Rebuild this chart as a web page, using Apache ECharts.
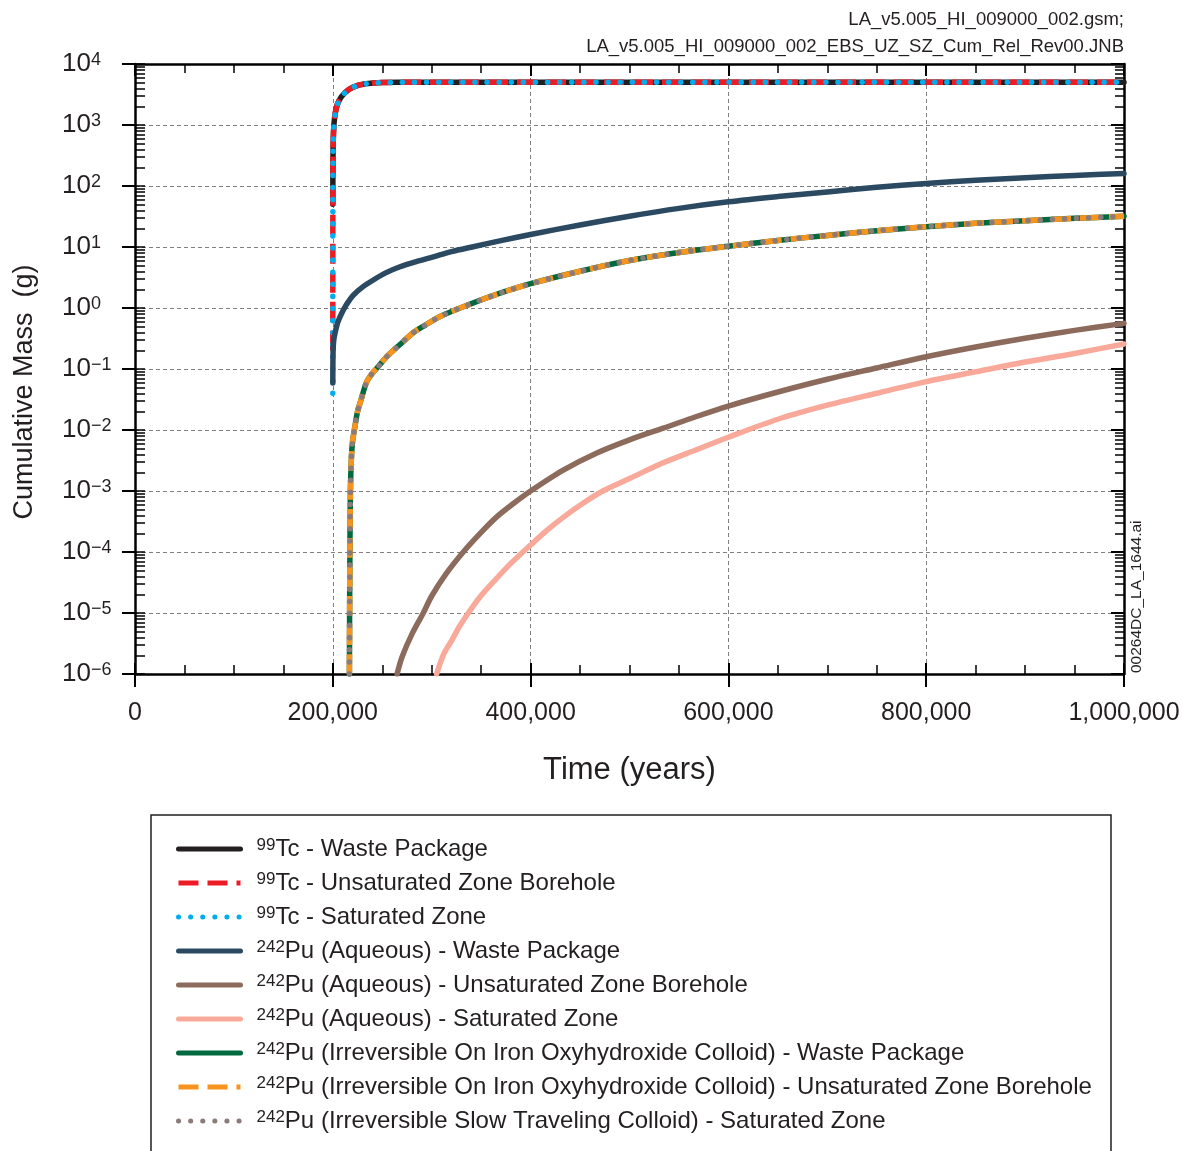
<!DOCTYPE html>
<html>
<head>
<meta charset="utf-8">
<script src="https://cdn.jsdelivr.net/npm/echarts@6/dist/echarts.min.js"></script>
<style>html,body{margin:0;padding:0;background:#fff}#c{width:1182px;height:1151px}</style>
</head>
<body>
<div id="c"></div>
<script>
// ---------------- DATA ----------------
const seriesNames = [
  '99Tc - Waste Package',
  '99Tc - Unsaturated Zone Borehole',
  '99Tc - Saturated Zone',
  '242Pu (Aqueous) - Waste Package',
  '242Pu (Aqueous) - Unsaturated Zone Borehole',
  '242Pu (Aqueous) - Saturated Zone',
  '242Pu (Irreversible On Iron Oxyhydroxide Colloid) - Waste Package',
  '242Pu (Irreversible On Iron Oxyhydroxide Colloid) - Unsaturated Zone Borehole',
  '242Pu (Irreversible Slow Traveling Colloid) - Saturated Zone'
];

const xTickValues = [0, 200000, 400000, 600000, 800000, 1000000];
const yTickValues = [1e-6, 1e-5, 1e-4, 1e-3, 1e-2, 1e-1, 1, 10, 100, 1000, 10000];

// 99Tc (years, grams)
const tcTime = [200000, 200020, 200060, 200150, 200350, 200700, 201200, 202000, 203000, 204500, 206500, 209000, 212000, 216000, 220000, 226000, 233000, 241000, 250000, 265000, 300000, 400000, 500000, 600000, 700000, 800000, 900000, 1000000];
const tcWP = [50, 70, 110, 250, 480, 760, 1050, 1400, 1750, 2150, 2550, 2950, 3350, 3800, 4150, 4500, 4750, 4900, 4980, 5000, 5000, 5000, 5000, 5000, 5000, 5000, 5000, 5000];
const tcUZ = [0.2, 3, 30, 200, 450, 740, 1030, 1400, 1750, 2150, 2550, 2950, 3350, 3800, 4150, 4500, 4750, 4900, 4980, 5000, 5000, 5000, 5000, 5000, 5000, 5000, 5000, 5000];
const tcSZ = [0.04, 1, 20, 170, 430, 730, 1020, 1400, 1750, 2150, 2550, 2950, 3350, 3800, 4150, 4500, 4750, 4900, 4980, 5000, 5000, 5000, 5000, 5000, 5000, 5000, 5000, 5000];

// 242Pu aqueous - waste package
const puAqWPTime = [200000, 200300, 201000, 202200, 205000, 209000, 214000, 220800, 230000, 241000, 254000, 268000, 285000, 301700, 320000, 342000, 370000, 400000, 450000, 500000, 550000, 600000, 650000, 700000, 750000, 800000, 850000, 900000, 950000, 1000000];
const puAqWP = [0.059, 0.2, 0.3, 0.385, 0.58, 0.82, 1.15, 1.63, 2.2, 2.88, 3.8, 4.75, 5.8, 6.9, 8.4, 10.1, 12.7, 16, 23, 32, 43, 55, 67, 80, 95, 110, 124, 137, 149, 160];

// 242Pu aqueous - unsaturated zone borehole
const puAqUZTime = [265000, 270000, 280000, 291500, 300000, 315000, 333000, 350000, 366000, 383000, 400000, 433000, 467000, 500000, 534000, 567000, 600000, 650000, 700000, 750000, 800000, 850000, 900000, 950000, 1000000];
const puAqUZ = [1e-6, 1.9e-6, 4.5e-6, 1e-5, 1.9e-5, 4.5e-5, 1.05e-4, 2.1e-4, 3.8e-4, 6.3e-4, 1e-3, 2.2e-3, 4.2e-3, 6.9e-3, 0.0107, 0.0165, 0.0247, 0.042, 0.068, 0.104, 0.159, 0.23, 0.32, 0.43, 0.56];

// 242Pu aqueous - saturated zone
const puAqSZTime = [305000, 312000, 320000, 328000, 337000, 349000, 365000, 380000, 400000, 417000, 434000, 453000, 473000, 500000, 534000, 567000, 600000, 650000, 700000, 750000, 800000, 850000, 900000, 950000, 1000000];
const puAqSZ = [1e-6, 2.1e-6, 3.5e-6, 6e-6, 1e-5, 1.85e-5, 3.6e-5, 6.5e-5, 1.3e-4, 2.3e-4, 3.8e-4, 6.3e-4, 1e-3, 1.6e-3, 2.9e-3, 4.7e-3, 7.6e-3, 0.015, 0.0255, 0.04, 0.062, 0.09, 0.13, 0.18, 0.257];

// 242Pu colloids (three curves overlap)
const puColTime = [216800, 217000, 217300, 217800, 218800, 220000, 222400, 225000, 228500, 234000, 240000, 246000, 253000, 261000, 270000, 281000, 294000, 308000, 332000, 362000, 400000, 450000, 500000, 550000, 600000, 650000, 700000, 750000, 800000, 850000, 900000, 950000, 1000000];
const puColWP = [1e-6, 1e-5, 1e-4, 1e-3, 3.5e-3, 6.5e-3, 0.0115, 0.02, 0.031, 0.06, 0.085, 0.11, 0.15, 0.2, 0.27, 0.39, 0.53, 0.72, 1.05, 1.6, 2.5, 4.0, 6.0, 8.1, 10.3, 12.8, 15.5, 18.5, 21.5, 24.5, 27, 29.5, 32];
const puColUZ = [1e-6, 1e-5, 1e-4, 1e-3, 3.5e-3, 6.5e-3, 0.0115, 0.02, 0.031, 0.06, 0.085, 0.11, 0.15, 0.2, 0.27, 0.39, 0.53, 0.72, 1.05, 1.6, 2.5, 4.0, 6.0, 8.1, 10.3, 12.8, 15.5, 18.5, 21.5, 24.5, 27, 29.5, 32];
const puColSZ = [1e-6, 1e-5, 1e-4, 1e-3, 3.5e-3, 6.5e-3, 0.0115, 0.02, 0.031, 0.06, 0.085, 0.11, 0.15, 0.2, 0.27, 0.39, 0.53, 0.72, 1.05, 1.6, 2.5, 4.0, 6.0, 8.1, 10.3, 12.8, 15.5, 18.5, 21.5, 24.5, 27, 29.5, 32];

// ---------------- STYLE ----------------
const FONT = '"Liberation Sans", Arial, Helvetica, sans-serif';
const TXT = '#231f20';
const minorMult = [2, 3, 4, 5, 6, 7, 8, 9];
const yMinor = [];
yTickValues.slice(0, -1).forEach(d => minorMult.forEach(m => yMinor.push(+(d * m).toPrecision(3))));

const pairs = (xs, ys) => xs.map((x, i) => [x, ys[i]]);

const styles = [
  {color: '#231f20', type: 'solid', cap: 'round', smooth: false},
  {color: '#ed1c24', type: [20, 9], cap: 'butt', smooth: false},
  {color: '#00aeef', type: [0.1, 12], cap: 'round', smooth: false},
  {color: '#2b4a62', type: 'solid', cap: 'round', smooth: 0.3},
  {color: '#8d6b5c', type: 'solid', cap: 'round', smooth: 0.3},
  {color: '#f8a999', type: 'solid', cap: 'round', smooth: 0.3},
  {color: '#00693e', type: 'solid', cap: 'round', smooth: 0.3},
  {color: '#f7941d', type: [20, 9], cap: 'butt', smooth: 0.3},
  {color: '#8a7b79', type: [0.1, 12], cap: 'round', smooth: 0.3}
];
const seriesData = [
  pairs(tcTime, tcWP), pairs(tcTime, tcUZ), pairs(tcTime, tcSZ),
  pairs(puAqWPTime, puAqWP), pairs(puAqUZTime, puAqUZ), pairs(puAqSZTime, puAqSZ),
  pairs(puColTime, puColWP), pairs(puColTime, puColUZ), pairs(puColTime, puColSZ)
];

const series = seriesNames.map((name, i) => ({
  name: name,
  type: 'line',
  xAxisIndex: 0,
  yAxisIndex: 0,
  data: seriesData[i],
  symbol: 'none',
  showSymbol: false,
  smooth: styles[i].smooth,
  silent: true,
  emphasis: {disabled: true},
  lineStyle: {color: styles[i].color, width: 5.5, type: styles[i].type, cap: styles[i].cap, join: 'round'},
  itemStyle: {color: styles[i].color}
}));

const gridLine = {show: true, lineStyle: {color: '#7f7f7f', width: 1, type: [4, 3]}};
const xBase = {type: 'value', min: 0, max: 1000000, interval: 200000};
const yBase = {type: 'log', logBase: 10, min: 1e-6, max: 1e4, interval: 1, splitNumber: 10};
const noLine = {show: false, onZero: false};
const frameLine = {show: true, onZero: false, lineStyle: {color: '#000', width: 2.5}};
const gridPos = {left: 135, right: 58, top: 64, height: 610, containLabel: false, outerBoundsMode: 'none'};

const option = {
  animation: false,
  backgroundColor: '#ffffff',
  textStyle: {fontFamily: FONT},
  grid: [Object.assign({}, gridPos), Object.assign({}, gridPos), Object.assign({}, gridPos), Object.assign({}, gridPos)],
  xAxis: [
    // grid 0: data axis, bottom
    Object.assign({}, xBase, {
      gridIndex: 0, position: 'bottom',
      axisLine: frameLine,
      axisTick: {show: true, inside: true, length: 11, lineStyle: {color: '#000', width: 2}},
      minorTick: {show: true, splitNumber: 4, length: 9, lineStyle: {color: '#000', width: 1.5}},
      axisLabel: {show: true, margin: 27, fontSize: 25, color: TXT, fontFamily: FONT,
        showMinLabel: true, showMaxLabel: true,
        formatter: v => Number(v).toLocaleString('en-US')},
      splitLine: gridLine,
      name: 'Time (years)', nameLocation: 'middle', nameGap: 81,
      nameTextStyle: {fontSize: 31, color: TXT, fontFamily: FONT}
    }),
    // grid 1: outward major ticks at bottom
    Object.assign({}, xBase, {
      gridIndex: 1, position: 'bottom',
      axisLine: noLine,
      axisTick: {show: true, inside: false, length: 13, lineStyle: {color: '#000', width: 2}},
      axisLabel: {show: false}, splitLine: {show: false}
    }),
    // grid 2: top frame
    Object.assign({}, xBase, {
      gridIndex: 2, position: 'top',
      axisLine: frameLine,
      axisTick: {show: true, inside: true, length: 12, lineStyle: {color: '#000', width: 2}},
      minorTick: {show: true, splitNumber: 4, length: 9, lineStyle: {color: '#000', width: 1.5}},
      axisLabel: {show: false}, splitLine: {show: false}
    }),
    Object.assign({}, xBase, {
      gridIndex: 3, position: 'bottom',
      axisLine: noLine, axisTick: {show: false}, axisLabel: {show: false}, splitLine: {show: false}
    })
  ],
  yAxis: [
    Object.assign({}, yBase, {
      gridIndex: 0, position: 'left',
      axisLine: frameLine,
      axisTick: {show: true, inside: false, length: 13, customValues: yTickValues, lineStyle: {color: '#000', width: 2}},
      axisLabel: {
        show: true, align: 'left', margin: 73, showMinLabel: true, showMaxLabel: true,
        customValues: yTickValues,
        formatter: v => {
          const e = Math.round(Math.log10(v));
          return '{b|10}{s|' + (e < 0 ? '\u2212' + (-e) : String(e)) + '}';
        },
        rich: {
          b: {fontSize: 26, lineHeight: 26, color: TXT, fontFamily: FONT},
          s: {fontSize: 18, lineHeight: 16, verticalAlign: 'top', color: TXT, fontFamily: FONT}
        }
      },
      splitLine: gridLine
    }),
    Object.assign({}, yBase, {
      gridIndex: 1, position: 'left',
      axisLine: noLine,
      axisTick: {show: true, inside: true, length: 10, customValues: yTickValues.concat(yMinor), lineStyle: {color: '#000', width: 1.5}},
      axisLabel: {show: false}, splitLine: {show: false}
    }),
    Object.assign({}, yBase, {
      gridIndex: 2, position: 'right',
      axisLine: frameLine,
      axisTick: {show: true, inside: true, length: 13, customValues: yTickValues, lineStyle: {color: '#000', width: 2}},
      axisLabel: {show: false}, splitLine: {show: false}
    }),
    Object.assign({}, yBase, {
      gridIndex: 3, position: 'right',
      axisLine: noLine,
      axisTick: {show: true, inside: true, length: 9, customValues: yMinor, lineStyle: {color: '#000', width: 1.5}},
      axisLabel: {show: false}, splitLine: {show: false}
    })
  ],
  legend: {
    orient: 'vertical', left: 176, top: 837, padding: 0,
    itemWidth: 62, itemHeight: 24, itemGap: 10,
    selectedMode: false,
    data: seriesNames,
    itemStyle: {opacity: 0, borderWidth: 0, color: 'rgba(0,0,0,0)'},
    lineStyle: {width: 5},
    formatter: name => {
      const m = name.match(/^(\d+)(.*)$/);
      return '{sp| }{sup|' + m[1] + '}{t|' + m[2] + '}';
    },
    textStyle: {
      color: TXT, fontFamily: FONT, fontSize: 24,
      rich: {
        sp: {width: 11, fontSize: 24, lineHeight: 24},
        sup: {fontSize: 17, lineHeight: 14, verticalAlign: 'top', color: TXT, fontFamily: FONT},
        t: {fontSize: 24, lineHeight: 24, color: TXT, fontFamily: FONT}
      }
    }
  },
  graphic: [
    {type: 'rect', silent: true, z: -1, shape: {x: 151, y: 815, width: 960, height: 400},
      style: {fill: 'none', stroke: '#231f20', lineWidth: 1.5}},
    {type: 'text', silent: true, x: 1124, y: 20,
      style: {text: 'LA_v5.005_HI_009000_002.gsm;', fontSize: 18.5, fontFamily: FONT, fill: TXT, align: 'right', verticalAlign: 'middle'}},
    {type: 'text', silent: true, x: 1124, y: 47,
      style: {text: 'LA_v5.005_HI_009000_002_EBS_UZ_SZ_Cum_Rel_Rev00.JNB', fontSize: 18.5, fontFamily: FONT, fill: TXT, align: 'right', verticalAlign: 'middle'}},
    {type: 'text', silent: true, x: 25, y: 392, rotation: Math.PI / 2,
      style: {text: 'Cumulative Mass  (g)', fontSize: 27, fontFamily: FONT, fill: TXT, align: 'center', verticalAlign: 'middle'}},
    {type: 'text', silent: true, x: 1137, y: 673, rotation: Math.PI / 2,
      style: {text: '00264DC_LA_1644.ai', fontSize: 15.5, fontFamily: FONT, fill: TXT, align: 'left', verticalAlign: 'middle'}}
  ],
  series: series
};

const chart = echarts.init(document.getElementById('c'), null, {renderer: 'canvas'});
chart.setOption(option);
</script>
</body>
</html>
